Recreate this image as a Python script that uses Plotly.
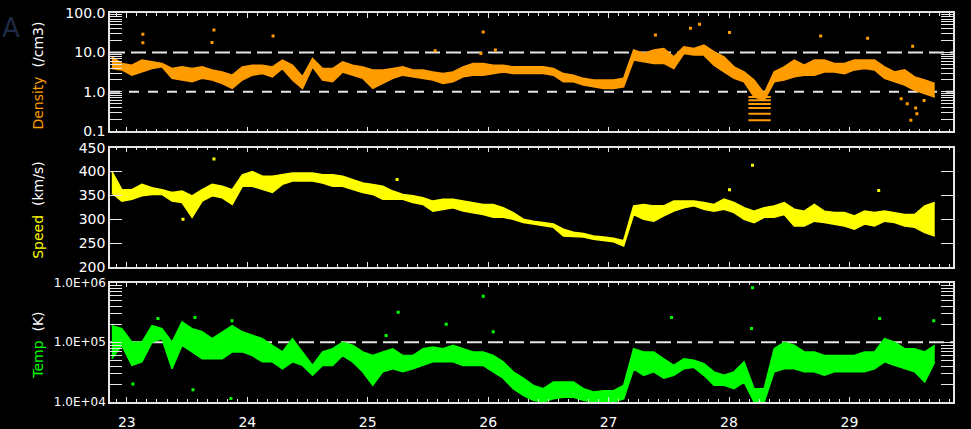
import numpy as np
import plotly.graph_objects as go

# ---------------- data ----------------
# regular 2-hour samples starting at day 22.875
start_day = 22.875
step_days = 1.0 / 12.0

dens_lo = [3.9, 3.6, 2.65, 3.2, 3.9, 4.3, 2.2, 2.0, 1.8, 2.2,
           2.0, 1.63, 1.22, 2.0, 2.65, 2.9, 2.4, 3.9, 2.0, 1.22,
           4.3, 2.0, 1.8, 3.2, 2.65, 2.2, 1.22, 1.63, 2.2, 2.65,
           2.4, 2.2, 2.0, 1.63, 1.8, 2.4, 2.65, 2.65, 2.9, 3.2,
           2.9, 2.9, 2.9, 2.9, 2.65, 1.8, 1.8, 1.48, 1.34, 1.22,
           1.22, 1.34, 6.4, 5.8, 5.25, 5.25, 3.9, 9.4, 8.55, 8.55,
           4.76, 3.2, 2.2, 1.8, 0.74, 0.61, 1.8, 2.0, 2.4, 2.65,
           2.65, 3.2, 3.2, 2.9, 3.6, 3.9, 3.6, 2.2, 1.8, 1.48,
           1.1, 0.91, 0.74]
dens_hi = [7.7, 5.25, 4.76, 6.4, 5.8, 5.25, 3.9, 4.3, 3.9, 4.3,
           3.6, 3.2, 2.65, 4.3, 4.76, 4.76, 4.3, 6.4, 4.76, 2.4,
           7.0, 3.9, 3.9, 5.8, 4.76, 4.3, 3.6, 3.6, 3.9, 4.3,
           3.6, 3.6, 3.2, 2.9, 3.2, 4.3, 5.25, 5.25, 4.76, 4.76,
           4.3, 4.3, 4.3, 4.3, 3.9, 2.9, 2.65, 2.2, 2.0, 2.0,
           2.0, 2.2, 11.5, 9.4, 11.5, 12.6, 7.7, 13.9, 12.6, 15.3,
           10.4, 7.7, 4.3, 3.2, 2.0, 0.91, 3.2, 4.3, 6.4, 4.76,
           6.4, 6.4, 5.25, 5.25, 6.4, 6.4, 6.4, 4.3, 3.2, 3.6,
           2.4, 2.0, 1.63]

speed_lo = [355, 338, 342, 349, 352, 352, 338, 335, 304, 338,
            349, 345, 331, 369, 369, 362, 356, 373, 380, 380,
            380, 376, 369, 369, 362, 356, 352, 342, 342, 342,
            335, 331, 317, 321, 324, 317, 314, 310, 304, 304,
            300, 293, 290, 286, 283, 265, 264, 263, 258, 256,
            253, 244, 310, 300, 296, 307, 317, 324, 328, 321,
            317, 321, 314, 300, 293, 304, 304, 310, 286, 286,
            296, 293, 290, 286, 279, 290, 286, 296, 293, 286,
            283, 272, 265]
speed_hi = [400, 362, 362, 373, 366, 362, 356, 359, 349, 362,
            373, 369, 362, 393, 400, 390, 390, 393, 397, 397,
            397, 393, 393, 390, 383, 376, 373, 369, 359, 352,
            349, 345, 338, 342, 342, 338, 335, 331, 331, 324,
            314, 300, 296, 293, 290, 279, 273, 270, 265, 263,
            260, 255, 328, 331, 328, 328, 338, 338, 338, 335,
            331, 342, 335, 324, 317, 324, 328, 335, 321, 317,
            331, 317, 314, 314, 307, 317, 314, 317, 314, 310,
            310, 328, 335]

temp_lo = [5.3e4, 8.9e4, 4.1e4, 4.7e4, 1.0e5, 1.15e5, 3.6e4, 8.9e4, 6.9e4, 5.3e4,
           5.3e4, 5.3e4, 6.9e4, 6.9e4, 6.0e4, 4.7e4, 4.7e4, 3.6e4, 4.7e4, 4.1e4,
           2.8e4, 4.1e4, 4.1e4, 6.0e4, 4.7e4, 3.2e4, 1.9e4, 3.2e4, 3.6e4, 3.2e4,
           3.6e4, 4.1e4, 4.7e4, 4.7e4, 4.7e4, 4.1e4, 4.1e4, 4.1e4, 3.2e4, 2.5e4,
           1.67e4, 1.29e4, 1.07e4, 1.0e4, 1.13e4, 1.2e4, 1.2e4, 1.07e4, 1.0e4, 1.0e4,
           1.0e4, 1.13e4, 3.6e4, 2.8e4, 3.2e4, 2.5e4, 2.8e4, 3.6e4, 3.8e4, 2.8e4,
           1.9e4, 1.9e4, 1.67e4, 2.16e4, 1.0e4, 1.0e4, 3.2e4, 3.6e4, 3.6e4, 3.2e4,
           3.2e4, 2.8e4, 3.2e4, 3.2e4, 3.2e4, 3.2e4, 3.6e4, 4.7e4, 4.1e4, 3.6e4,
           3.2e4, 2.16e4, 4.7e4]
temp_hi = [1.9e5, 1.69e5, 1.0e5, 1.0e5, 1.9e5, 1.69e5, 1.0e5, 2.2e5, 1.69e5, 1.5e5,
           1.15e5, 1.5e5, 1.9e5, 1.5e5, 1.31e5, 1.15e5, 8.9e4, 6.9e4, 1.15e5, 6.9e4,
           4.1e4, 6.9e4, 7.8e4, 1.0e5, 8.9e4, 6.9e4, 6.0e4, 6.9e4, 7.8e4, 6.0e4,
           6.0e4, 7.8e4, 8.3e4, 7.8e4, 8.9e4, 7.8e4, 6.9e4, 6.9e4, 6.0e4, 4.7e4,
           3.2e4, 2.5e4, 1.9e4, 1.67e4, 2.16e4, 2.16e4, 2.16e4, 1.67e4, 1.47e4, 1.55e4,
           1.55e4, 1.9e4, 7.8e4, 6.9e4, 6.9e4, 5.3e4, 4.1e4, 5.3e4, 5.0e4, 4.4e4,
           3.2e4, 2.8e4, 3.2e4, 4.7e4, 1.67e4, 1.67e4, 7.8e4, 1.0e5, 8.9e4, 6.9e4,
           6.9e4, 6.0e4, 6.0e4, 6.0e4, 6.0e4, 6.9e4, 6.9e4, 1.15e5, 1.0e5, 7.8e4,
           7.8e4, 6.9e4, 8.9e4]

# scattered single samples away from the main band
dens_out_day = [23.133, 23.133, 23.723, 23.707, 24.214, 25.959, 25.560, 27.755,
                27.680, 28.004, 28.761, 29.151, 29.525, 27.389, 25.94, 26.06]
dens_out_val = [28.7, 17.6, 37.0, 17.9, 26.0, 33.0, 11.0, 51.5,
                41.0, 32.0, 26.0, 23.0, 14.4, 27.5, 9.4, 11.5]
dens_low_day = [28.254, 28.254, 28.254, 28.254, 28.254, 28.254,
                29.43, 29.48, 29.55, 29.56, 29.62, 29.51]
dens_low_val = [0.74, 0.61, 0.49, 0.39, 0.28, 0.19,
                0.67, 0.5, 0.39, 0.28, 0.6, 0.19]

speed_out_day = [23.723, 23.466, 28.195, 29.243, 25.244, 28.004]
speed_out_val = [426, 300, 413, 360, 383, 362]

temp_out_day = [23.050, 23.864, 25.959, 25.253, 25.652, 25.153, 28.195, 27.522,
                29.251, 29.700, 28.187, 23.258, 23.565, 23.873, 23.549, 26.042]
temp_out_val = [2.0e4, 1.15e4, 5.9e5, 3.2e5, 2.0e5, 1.3e5, 8.2e5, 2.6e5,
                2.5e5, 2.3e5, 1.7e5, 2.5e5, 2.6e5, 2.3e5, 1.6e4, 1.5e5]

day_ticks = [23, 24, 25, 26, 27, 28, 29]
dens_ref_lines = [10.0, 1.0]
temp_ref_lines = [1.0e5]

# ---------------- figure ----------------
ORANGE = "#ff9c00"
YELLOW = "#ffff00"
GREEN = "#00ff00"
AXC = "#e6e6e6"
FONT = "DejaVu Sans"

days = start_day + step_days * np.arange(len(dens_lo))

fig = go.Figure()


def band(lo, hi, color, yaxis, xaxis):
    fig.add_trace(go.Scatter(x=days, y=lo, mode="lines", line=dict(color=color, width=1.5),
                             xaxis=xaxis, yaxis=yaxis, showlegend=False, hoverinfo="skip"))
    fig.add_trace(go.Scatter(x=days, y=hi, mode="lines", line=dict(color=color, width=1.5),
                             fill="tonexty", fillcolor=color,
                             xaxis=xaxis, yaxis=yaxis, showlegend=False, hoverinfo="skip"))


def dots(xs, ys, color, yaxis, xaxis, symbol="square", size=3):
    fig.add_trace(go.Scatter(x=xs, y=ys, mode="markers",
                             marker=dict(color=color, size=size, symbol=symbol,
                                         line=dict(width=0, color=color)),
                             xaxis=xaxis, yaxis=yaxis, showlegend=False, hoverinfo="skip"))


band(dens_lo, dens_hi, ORANGE, "y", "x")
dots(dens_out_day, dens_out_val, ORANGE, "y", "x")
fig.add_trace(go.Scatter(x=dens_low_day[:6], y=dens_low_val[:6], mode="markers",
                         marker=dict(symbol="line-ew", size=16, line=dict(color=ORANGE, width=2)),
                         xaxis="x", yaxis="y", showlegend=False, hoverinfo="skip"))
dots(dens_low_day[6:], dens_low_val[6:], ORANGE, "y", "x")

band(speed_lo, speed_hi, YELLOW, "y2", "x2")
dots(speed_out_day, speed_out_val, YELLOW, "y2", "x2")

band(temp_lo, temp_hi, GREEN, "y3", "x3")
dots(temp_out_day, temp_out_val, GREEN, "y3", "x3")

xr = [22.86, 29.86]
dom1, dom2, dom3 = [0.696, 1.0], [0.347, 0.654], [0.0, 0.307]

xbase = dict(range=xr, showgrid=False, zeroline=False, showline=True, linecolor=AXC, linewidth=1.5,
             mirror="allticks", ticks="inside", ticklen=5, tickwidth=1, tickcolor=AXC,
             tickvals=day_ticks, automargin=False,
             minor=dict(dtick=step_days, tick0=22, ticks="inside", ticklen=3, tickcolor=AXC, tickwidth=1),
             tickfont=dict(family=FONT, size=14, color="white"))

fig.update_layout(
    xaxis=dict(xbase, anchor="y", showticklabels=False),
    xaxis2=dict(xbase, anchor="y2", matches="x", showticklabels=False),
    xaxis3=dict(xbase, anchor="y3", matches="x", showticklabels=True,
                ticklabelstandoff=6,
                ticktext=[str(d) for d in day_ticks]),
)


def logvals(dec_lo, dec_hi):
    vals = []
    for e in range(dec_lo, dec_hi):
        for m in range(1, 10):
            vals.append(m * 10.0 ** e)
    vals.append(10.0 ** dec_hi)
    return vals


dvals = logvals(-1, 2)
dlab = {0.1: "0.1", 1.0: "1.0", 10.0: "10.0", 100.0: "100.0"}
dtext = [dlab.get(round(v, 6), "") for v in dvals]

tvals = logvals(4, 6)
tlab = {1e4: "1.0E+04", 1e5: "1.0E+05", 1e6: "1.0E+06"}
ttext = [tlab.get(round(v), "") for v in tvals]

ybase = dict(showgrid=False, zeroline=False, showline=True, linecolor=AXC, linewidth=1.5,
             mirror="allticks", ticks="inside", ticklen=12, tickwidth=1.3, tickcolor=AXC,
             automargin=False,
             tickfont=dict(family=FONT, size=14, color="white"))

fig.update_layout(
    yaxis=dict(ybase, domain=dom1, anchor="x", type="log", range=[-1, 2],
               tickvals=dvals, ticktext=dtext),
    yaxis2=dict(ybase, domain=dom2, anchor="x2", range=[200, 450],
                tickvals=[200, 250, 300, 350, 400, 450],
                ticktext=["200", "250", "300", "350", "400", "450"]),
    yaxis3=dict(ybase, domain=dom3, anchor="x3", type="log", range=[4, 6],
                tickvals=tvals, ticktext=ttext,
                tickfont=dict(family=FONT, size=12, color="white")),
)

shapes = []
for v, dash in zip(dens_ref_lines, ["15px,6px", "10px,9px"]):
    shapes.append(dict(type="line", xref="x domain", yref="y", x0=0, x1=1, y0=v, y1=v,
                       line=dict(color=AXC, width=2, dash=dash), layer="below"))
for v in temp_ref_lines:
    shapes.append(dict(type="line", xref="x3 domain", yref="y3", x0=0, x1=1, y0=v, y1=v,
                       line=dict(color=AXC, width=2, dash="15px,6px"), layer="below"))

annotations = [
    dict(text="<span style='color:%s'>Density</span>&nbsp;&nbsp;(/cm3)" % ORANGE,
         xref="paper", yref="paper", x=-0.085, y=(dom1[0] + dom1[1]) / 2 - 0.008, textangle=-90,
         showarrow=False, font=dict(family=FONT, size=14, color="white"), xanchor="center", yanchor="middle"),
    dict(text="<span style='color:%s'>Speed</span>&nbsp;&nbsp;(km/s)" % YELLOW,
         xref="paper", yref="paper", x=-0.085, y=(dom2[0] + dom2[1]) / 2 - 0.008, textangle=-90,
         showarrow=False, font=dict(family=FONT, size=14, color="white"), xanchor="center", yanchor="middle"),
    dict(text="<span style='color:%s'>Temp</span>&nbsp;&nbsp;(K)" % GREEN,
         xref="paper", yref="paper", x=-0.085, y=(dom3[0] + dom3[1]) / 2 - 0.008, textangle=-90,
         showarrow=False, font=dict(family=FONT, size=14, color="white"), xanchor="center", yanchor="middle"),
    dict(text="A", xref="paper", yref="paper", x=-0.1305, y=1.005, xanchor="left", yanchor="top",
         showarrow=False, font=dict(family=FONT, size=26, color="#1c2a44")),
]

fig.update_layout(
    width=971, height=429,
    margin=dict(l=110, r=18, t=13, b=27, autoexpand=False),
    paper_bgcolor="black", plot_bgcolor="black",
    shapes=shapes, annotations=annotations,
    showlegend=False,
)

fig.write_html(
    "out.html",
    config={"displayModeBar": False},
    post_script="document.body.style.margin='0';document.body.style.padding='0';"
                "document.body.style.background='black';document.body.style.overflow='hidden';",
)
